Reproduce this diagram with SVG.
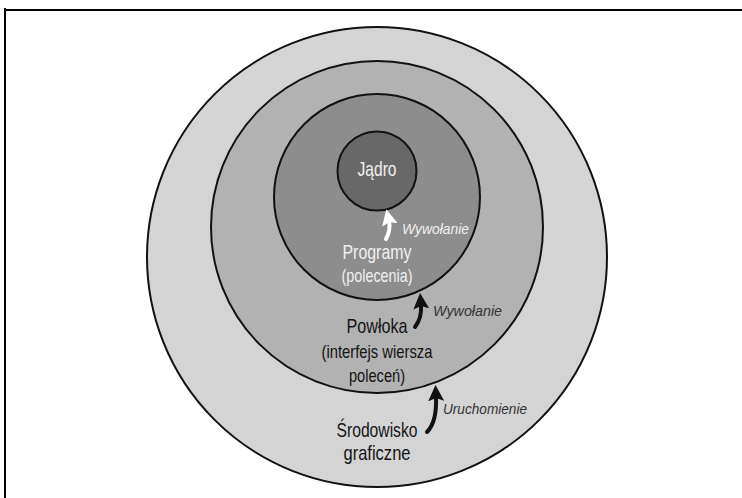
<svg xmlns="http://www.w3.org/2000/svg" width="742" height="498" viewBox="0 0 742 498">
  <style>
    .ring { stroke: #111; stroke-width: 2; }
    .lbl { font-family: "Liberation Sans", Arial, sans-serif; text-anchor: middle; }
    .big { font-size: 21px; }
    .sub { font-size: 19px; }
    .call { font-family: "Liberation Sans", Arial, sans-serif; font-size: 15px; font-style: italic; }
    .light { fill: #f0f0f0; }
    .dark { fill: #141414; }
    .mid { fill: #333333; }
    .shaft { fill: none; stroke-width: 4; stroke-linecap: round; }
  </style>
  <defs>
    <marker id="headWhite" viewBox="0 0 16 16" refX="4" refY="8" markerWidth="16" markerHeight="16" markerUnits="userSpaceOnUse" orient="auto">
      <path d="M0,0 L16,8 L0,16 L3,8 Z" fill="#ffffff"/>
    </marker>
    <marker id="headBlack" viewBox="0 0 16 16" refX="4" refY="8" markerWidth="16" markerHeight="16" markerUnits="userSpaceOnUse" orient="auto">
      <path d="M0,0 L16,8 L0,16 L3,8 Z" fill="#111111"/>
    </marker>
  </defs>

  <rect width="742" height="498" fill="#ffffff"/>

  <!-- frame -->
  <path d="M5,8 L5,498 M4,10 L742,10" fill="none" stroke="#000" stroke-width="2"/>

  <g id="graphical-environment">
    <circle class="ring" cx="377" cy="257" r="230" fill="#d4d4d4"/>
    <text class="lbl big dark" x="377" y="437" textLength="81" lengthAdjust="spacingAndGlyphs">Środowisko</text>
    <text class="lbl big dark" x="377" y="460" textLength="67" lengthAdjust="spacingAndGlyphs">graficzne</text>
  </g>

  <g id="shell">
    <circle class="ring" cx="377" cy="227" r="166" fill="#b2b2b2"/>
    <text class="lbl big dark" x="377" y="333" textLength="61" lengthAdjust="spacingAndGlyphs">Powłoka</text>
    <text class="lbl sub dark" x="377" y="358" textLength="111" lengthAdjust="spacingAndGlyphs">(interfejs wiersza</text>
    <text class="lbl sub dark" x="377" y="382" textLength="56" lengthAdjust="spacingAndGlyphs">poleceń)</text>
  </g>

  <g id="programs">
    <circle class="ring" cx="377" cy="197" r="103" fill="#8d8d8d"/>
    <text class="lbl big light" x="377" y="259" textLength="69" lengthAdjust="spacingAndGlyphs">Programy</text>
    <text class="lbl sub light" x="377" y="282" textLength="71" lengthAdjust="spacingAndGlyphs">(polecenia)</text>
  </g>

  <g id="kernel">
    <circle class="ring" cx="377" cy="171" r="39.5" fill="#686868"/>
    <text class="lbl big light" x="377" y="176" textLength="39" lengthAdjust="spacingAndGlyphs">Jądro</text>
  </g>

  <g id="connectors">
    <path class="shaft" d="M386,239 Q391,230 389,221" stroke="#ffffff" marker-end="url(#headWhite)"/>
    <text class="call light" x="402" y="234" textLength="67" lengthAdjust="spacingAndGlyphs">Wywołanie</text>

    <path class="shaft" d="M415,327 Q422,318 421,305" stroke="#111111" marker-end="url(#headBlack)"/>
    <text class="call mid" x="433" y="316" textLength="69" lengthAdjust="spacingAndGlyphs">Wywołanie</text>

    <path class="shaft" d="M427,432 Q437,422 436,397" stroke="#111111" marker-end="url(#headBlack)"/>
    <text class="call mid" x="443" y="414" textLength="84" lengthAdjust="spacingAndGlyphs">Uruchomienie</text>
  </g>
</svg>
